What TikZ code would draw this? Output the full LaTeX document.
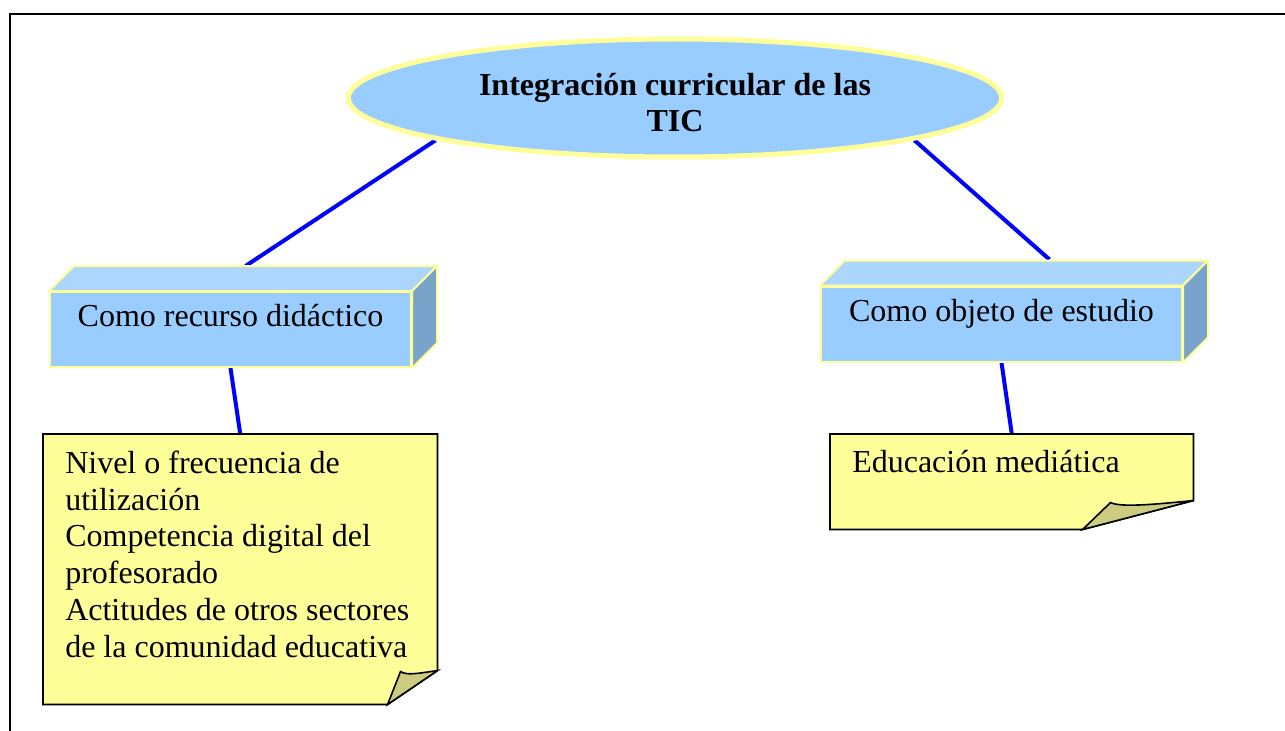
\documentclass[tikz,border=0pt]{standalone}
\usepackage{fontspec}
\setmainfont{Liberation Serif}
\usetikzlibrary{shapes.geometric,calc,backgrounds}

\definecolor{boxblue}{RGB}{153,204,255}
\definecolor{boxtop}{RGB}{173,214,255}
\definecolor{boxside}{RGB}{122,163,204}
\definecolor{paleyellow}{RGB}{255,255,153}
\definecolor{flapkhaki}{RGB}{204,204,128}

\begin{document}
\begin{tikzpicture}[x=0.75pt, y=-0.75pt,
  every node/.style={font=\fontsize{24}{27.6}\selectfont},
  frontface/.style={draw=paleyellow, line width=1.5pt, fill=boxblue, minimum width=270.75pt, inner sep=0pt, text height=26pt, text depth=30.25pt},
  topface/.style={draw=paleyellow, line width=1.5pt, fill=boxtop, line join=round},
  sideface/.style={draw=paleyellow, line width=1.5pt, fill=boxside, line join=round},
  note/.style={align=flush left, anchor=north west, inner xsep=16.5pt, inner ysep=0pt},
  notepaper/.style={draw=black, line width=1.2pt, fill=paleyellow},
  flap/.style={draw=black, line width=1.2pt, fill=flapkhaki},
  link/.style={draw=blue, line width=3pt}
]
\useasboundingbox (0,0) rectangle (1285,731);

% Frame
\draw[line width=1.5pt] (10,731) -- (10,14) -- (1285,14);

% Title
\node[ellipse, draw=paleyellow, line width=3.75pt, fill=boxblue, minimum width=490pt, minimum height=88.5pt, inner sep=0pt, align=center, font=\fontsize{24}{27.6}\selectfont\bfseries, text height=51pt, text depth=0pt] (tic) at (675,98) {Integración curricular de las\\TIC};

% Boxes
\node[frontface] (recurso) at (230.5,329.5) {Como recurso didáctico};
\node[frontface] (objeto) at (1001.5,324) {Como objeto de estudio};
\foreach \b in {recurso,objeto}{
  \filldraw[topface] (\b.north west) -- ++(25,-25) -- ($(\b.north east)+(25,-25)$) -- (\b.north east) -- cycle;
  \filldraw[sideface] (\b.north east) -- ++(25,-25) -- ($(\b.south east)+(25,-25)$) -- (\b.south east) -- cycle;
}
\coordinate (recursotop) at ($(recurso.north)+(15,-25)$);
\coordinate (objetotop) at ($(objeto.north)+(48,-26)$);

% Notes
\node[note, text width=262.5pt, text height=29.25pt, text depth=173.25pt] (uso) at (43,434) {Nivel o frecuencia de\\utilización\\Competencia digital del\\profesorado\\Actitudes de otros sectores\\de la comunidad educativa};
\node[note, text width=239.25pt, text height=28.5pt, text depth=42.75pt] (mediatica) at (830,434) {Educación mediática};

\begin{scope}[on background layer]
% Links
\draw[link] (tic.190) -- (recursotop);
\draw[link] (tic.-10) -- (objetotop);
\draw[link] (recurso.south) -- (uso.north);
\draw[link] (objeto.south) -- (mediatica.north);

% Paper with folded corner
\draw[notepaper] (uso.north west) -- (uso.north east) -- ($(uso.south east)+(0,-34)$) -- ($(uso.south east)+(-50,0)$) -- (uso.south west) -- cycle;
\draw[flap] ($(uso.south east)+(-50,0)$) -- ($(uso.south east)+(-37,-33)$) .. controls +(6,4) and +(-20,3) .. ($(uso.south east)+(0,-34)$) -- cycle;

\draw[notepaper] (mediatica.north west) -- (mediatica.north east) -- ($(mediatica.south east)+(0,-29)$) -- ($(mediatica.south east)+(-111,0)$) -- (mediatica.south west) -- cycle;
\draw[flap] ($(mediatica.south east)+(-111,0)$) -- ($(mediatica.south east)+(-83,-27)$) .. controls +(10,5) and +(-40,4) .. ($(mediatica.south east)+(0,-29)$) -- cycle;
\end{scope}
\end{tikzpicture}
\end{document}
